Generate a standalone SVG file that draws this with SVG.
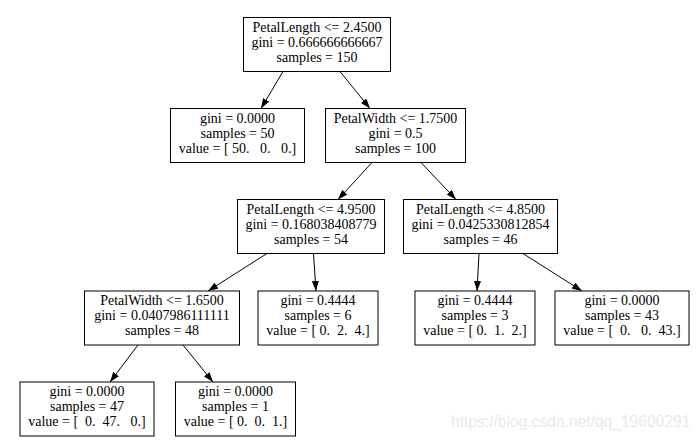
<svg xmlns="http://www.w3.org/2000/svg" width="700" height="441" viewBox="0 0 700 441">
<style>
.box{fill:#fff;stroke:#000;stroke-width:1}
.t{font-family:"Liberation Serif","Times New Roman",serif;font-size:14px;fill:#000;text-anchor:middle;white-space:pre}
.e{stroke:#000;stroke-width:1;fill:none;marker-end:url(#ah)}
.wm{font-family:"Liberation Sans",Arial,sans-serif;font-size:15.6px;fill:#e9e9e9}
</style>
<defs>
<marker id="ah" viewBox="0 0 10 7" refX="10" refY="3.5" markerWidth="10" markerHeight="7" markerUnits="userSpaceOnUse" orient="auto">
<path d="M0,0 L10,3.5 L0,7 z" fill="#000"/>
</marker>
</defs>
<rect width="700" height="441" fill="#fff"/>
<g id="edges">
<line class="e" x1="283" y1="71.5" x2="261" y2="108.5"/>
<line class="e" x1="340" y1="71.5" x2="370" y2="108.5"/>
<line class="e" x1="372" y1="162.5" x2="338" y2="199.5"/>
<line class="e" x1="421" y1="162.5" x2="456" y2="199.5"/>
<line class="e" x1="267" y1="253.5" x2="208" y2="291"/>
<line class="e" x1="313.5" y1="253.5" x2="316" y2="291"/>
<line class="e" x1="479" y1="253.5" x2="477" y2="291"/>
<line class="e" x1="523" y1="253.5" x2="582" y2="291"/>
<line class="e" x1="138" y1="345" x2="110" y2="382"/>
<line class="e" x1="183" y1="345" x2="213" y2="382"/>
</g>
<g id="n0">
<rect class="box" x="243.5" y="17.5" width="147" height="54"/>
<text class="t" x="317" y="31.5">PetalLength &lt;= 2.4500</text>
<text class="t" x="317" y="46.5">gini = 0.666666666667</text>
<text class="t" x="317" y="61.5">samples = 150</text>
</g>
<g id="n1">
<rect class="box" x="170.5" y="108.5" width="134" height="54"/>
<text class="t" x="237.5" y="122.5">gini = 0.0000</text>
<text class="t" x="237.5" y="137.5">samples = 50</text>
<text class="t" x="237.5" y="152.5">value = [ 50.   0.   0.]</text>
</g>
<g id="n2">
<rect class="box" x="325.5" y="108.5" width="140" height="54"/>
<text class="t" x="395.5" y="122.5">PetalWidth &lt;= 1.7500</text>
<text class="t" x="395.5" y="137.5">gini = 0.5</text>
<text class="t" x="395.5" y="152.5">samples = 100</text>
</g>
<g id="n3">
<rect class="box" x="237.5" y="199.5" width="147" height="54"/>
<text class="t" x="311" y="213.5">PetalLength &lt;= 4.9500</text>
<text class="t" x="311" y="228.5">gini = 0.168038408779</text>
<text class="t" x="311" y="243.5">samples = 54</text>
</g>
<g id="n4">
<rect class="box" x="403.5" y="199.5" width="154" height="54"/>
<text class="t" x="480.5" y="213.5">PetalLength &lt;= 4.8500</text>
<text class="t" x="480.5" y="228.5">gini = 0.0425330812854</text>
<text class="t" x="480.5" y="243.5">samples = 46</text>
</g>
<g id="n5">
<rect class="box" x="84.5" y="291" width="155" height="54"/>
<text class="t" x="162" y="305">PetalWidth &lt;= 1.6500</text>
<text class="t" x="162" y="320">gini = 0.0407986111111</text>
<text class="t" x="162" y="335">samples = 48</text>
</g>
<g id="n6">
<rect class="box" x="258" y="291" width="120" height="54"/>
<text class="t" x="318" y="305">gini = 0.4444</text>
<text class="t" x="318" y="320">samples = 6</text>
<text class="t" x="318" y="335">value = [ 0.  2.  4.]</text>
</g>
<g id="n7">
<rect class="box" x="415" y="291" width="120" height="54"/>
<text class="t" x="475" y="305">gini = 0.4444</text>
<text class="t" x="475" y="320">samples = 3</text>
<text class="t" x="475" y="335">value = [ 0.  1.  2.]</text>
</g>
<g id="n8">
<rect class="box" x="555" y="291" width="134" height="54"/>
<text class="t" x="622" y="305">gini = 0.0000</text>
<text class="t" x="622" y="320">samples = 43</text>
<text class="t" x="622" y="335">value = [  0.   0.  43.]</text>
</g>
<g id="n9">
<rect class="box" x="20" y="382" width="134" height="54"/>
<text class="t" x="87" y="396">gini = 0.0000</text>
<text class="t" x="87" y="411">samples = 47</text>
<text class="t" x="87" y="426">value = [  0.  47.   0.]</text>
</g>
<g id="n10">
<rect class="box" x="175.5" y="382" width="120" height="54"/>
<text class="t" x="235.5" y="396">gini = 0.0000</text>
<text class="t" x="235.5" y="411">samples = 1</text>
<text class="t" x="235.5" y="426">value = [ 0.  0.  1.]</text>
</g>
<text class="wm" x="451" y="427">https://blog.csdn.net/qq_19600291</text>
</svg>
